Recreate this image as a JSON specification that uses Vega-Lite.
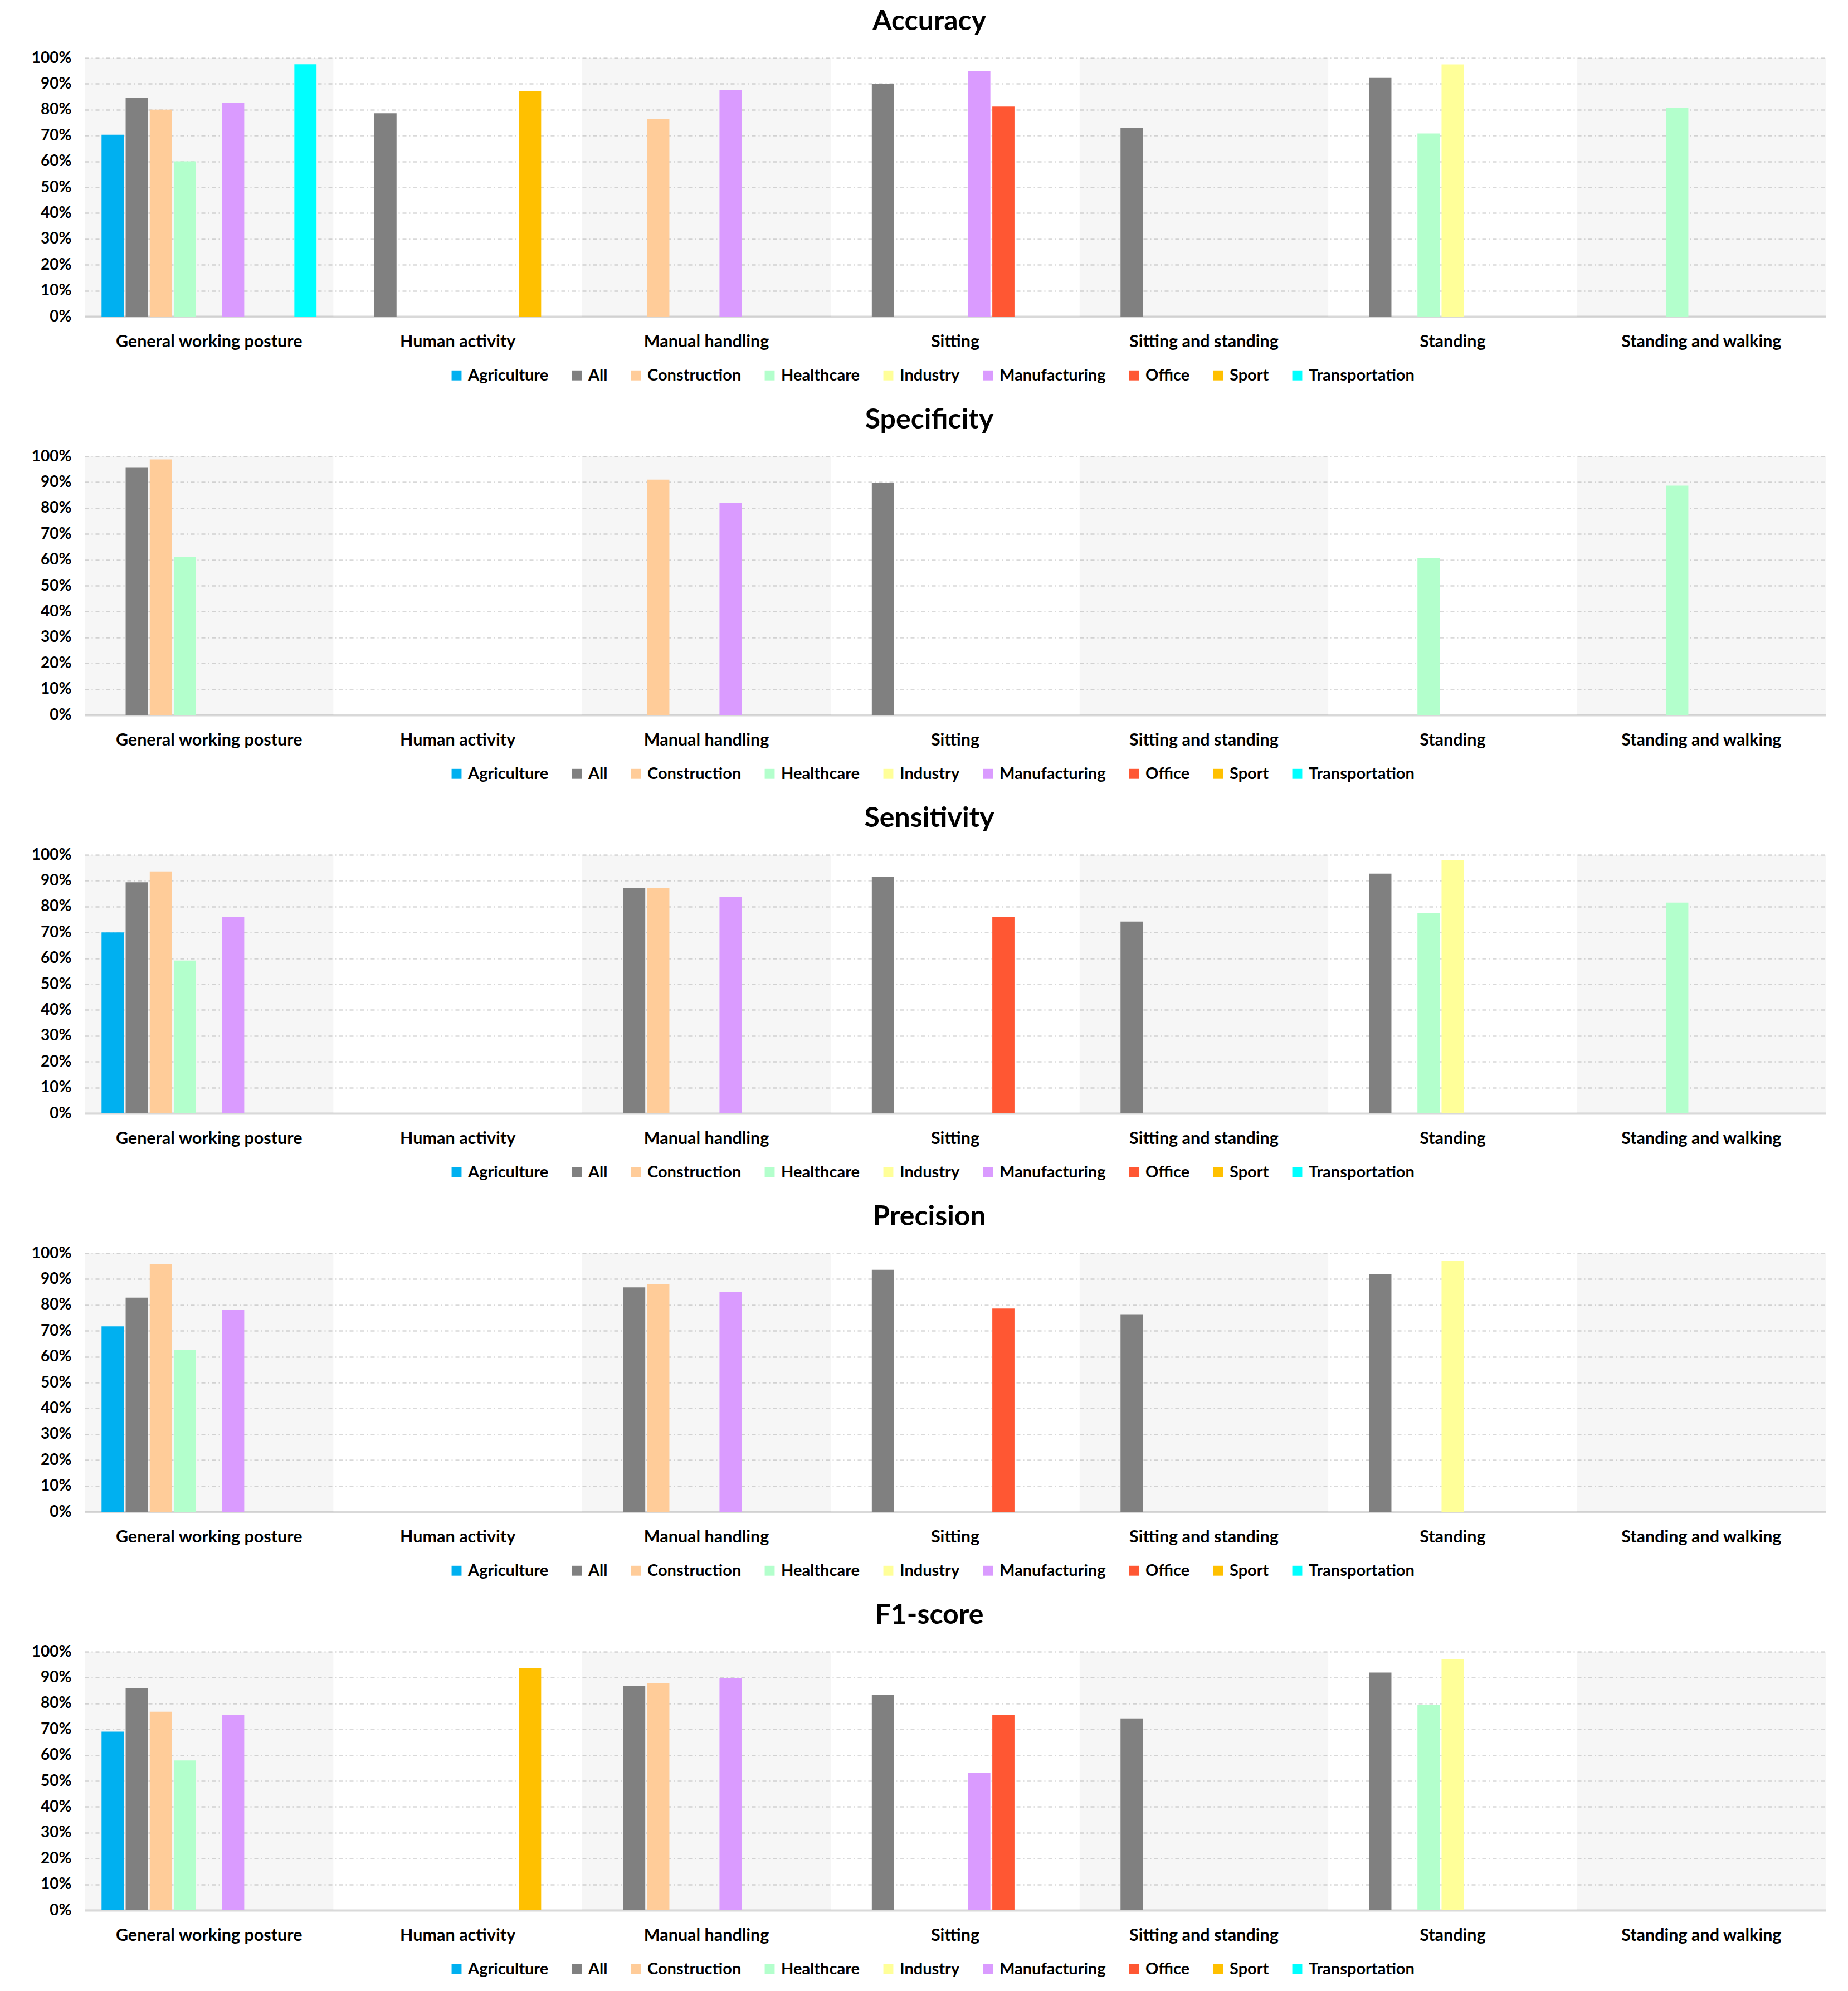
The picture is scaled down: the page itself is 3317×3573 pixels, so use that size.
{
  "$schema": "https://vega.github.io/schema/vega-lite/v6.json",
  "background": "white",
  "padding": {"left": 5, "top": 14, "right": 5, "bottom": 5},
  "datasets": {
    "postures": [
      {"posture": "General working posture"},
      {"posture": "Human activity"},
      {"posture": "Manual handling"},
      {"posture": "Sitting"},
      {"posture": "Sitting and standing"},
      {"posture": "Standing"},
      {"posture": "Standing and walking"}
    ],
    "scores": [
      {"metric": "Accuracy", "posture": "General working posture", "sector": "Agriculture", "value": 0.703},
      {"metric": "Accuracy", "posture": "General working posture", "sector": "All", "value": 0.847},
      {"metric": "Accuracy", "posture": "General working posture", "sector": "Construction", "value": 0.800},
      {"metric": "Accuracy", "posture": "General working posture", "sector": "Healthcare", "value": 0.600},
      {"metric": "Accuracy", "posture": "General working posture", "sector": "Manufacturing", "value": 0.826},
      {"metric": "Accuracy", "posture": "General working posture", "sector": "Transportation", "value": 0.976},
      {"metric": "Accuracy", "posture": "Human activity", "sector": "All", "value": 0.786},
      {"metric": "Accuracy", "posture": "Human activity", "sector": "Sport", "value": 0.873},
      {"metric": "Accuracy", "posture": "Manual handling", "sector": "Construction", "value": 0.764},
      {"metric": "Accuracy", "posture": "Manual handling", "sector": "Manufacturing", "value": 0.877},
      {"metric": "Accuracy", "posture": "Sitting", "sector": "All", "value": 0.901},
      {"metric": "Accuracy", "posture": "Sitting", "sector": "Manufacturing", "value": 0.949},
      {"metric": "Accuracy", "posture": "Sitting", "sector": "Office", "value": 0.812},
      {"metric": "Accuracy", "posture": "Sitting and standing", "sector": "All", "value": 0.729},
      {"metric": "Accuracy", "posture": "Standing", "sector": "All", "value": 0.923},
      {"metric": "Accuracy", "posture": "Standing", "sector": "Healthcare", "value": 0.708},
      {"metric": "Accuracy", "posture": "Standing", "sector": "Industry", "value": 0.975},
      {"metric": "Accuracy", "posture": "Standing and walking", "sector": "Healthcare", "value": 0.808},

      {"metric": "Specificity", "posture": "General working posture", "sector": "All", "value": 0.958},
      {"metric": "Specificity", "posture": "General working posture", "sector": "Construction", "value": 0.988},
      {"metric": "Specificity", "posture": "General working posture", "sector": "Healthcare", "value": 0.612},
      {"metric": "Specificity", "posture": "Manual handling", "sector": "Construction", "value": 0.910},
      {"metric": "Specificity", "posture": "Manual handling", "sector": "Manufacturing", "value": 0.820},
      {"metric": "Specificity", "posture": "Sitting", "sector": "All", "value": 0.897},
      {"metric": "Specificity", "posture": "Standing", "sector": "Healthcare", "value": 0.608},
      {"metric": "Specificity", "posture": "Standing and walking", "sector": "Healthcare", "value": 0.887},

      {"metric": "Sensitivity", "posture": "General working posture", "sector": "Agriculture", "value": 0.700},
      {"metric": "Sensitivity", "posture": "General working posture", "sector": "All", "value": 0.894},
      {"metric": "Sensitivity", "posture": "General working posture", "sector": "Construction", "value": 0.936},
      {"metric": "Sensitivity", "posture": "General working posture", "sector": "Healthcare", "value": 0.591},
      {"metric": "Sensitivity", "posture": "General working posture", "sector": "Manufacturing", "value": 0.760},
      {"metric": "Sensitivity", "posture": "Manual handling", "sector": "All", "value": 0.871},
      {"metric": "Sensitivity", "posture": "Manual handling", "sector": "Construction", "value": 0.871},
      {"metric": "Sensitivity", "posture": "Manual handling", "sector": "Manufacturing", "value": 0.837},
      {"metric": "Sensitivity", "posture": "Sitting", "sector": "All", "value": 0.915},
      {"metric": "Sensitivity", "posture": "Sitting", "sector": "Office", "value": 0.759},
      {"metric": "Sensitivity", "posture": "Sitting and standing", "sector": "All", "value": 0.742},
      {"metric": "Sensitivity", "posture": "Standing", "sector": "All", "value": 0.927},
      {"metric": "Sensitivity", "posture": "Standing", "sector": "Healthcare", "value": 0.776},
      {"metric": "Sensitivity", "posture": "Standing", "sector": "Industry", "value": 0.979},
      {"metric": "Sensitivity", "posture": "Standing and walking", "sector": "Healthcare", "value": 0.815},

      {"metric": "Precision", "posture": "General working posture", "sector": "Agriculture", "value": 0.717},
      {"metric": "Precision", "posture": "General working posture", "sector": "All", "value": 0.828},
      {"metric": "Precision", "posture": "General working posture", "sector": "Construction", "value": 0.958},
      {"metric": "Precision", "posture": "General working posture", "sector": "Healthcare", "value": 0.627},
      {"metric": "Precision", "posture": "General working posture", "sector": "Manufacturing", "value": 0.782},
      {"metric": "Precision", "posture": "Manual handling", "sector": "All", "value": 0.868},
      {"metric": "Precision", "posture": "Manual handling", "sector": "Construction", "value": 0.880},
      {"metric": "Precision", "posture": "Manual handling", "sector": "Manufacturing", "value": 0.850},
      {"metric": "Precision", "posture": "Sitting", "sector": "All", "value": 0.936},
      {"metric": "Precision", "posture": "Sitting", "sector": "Office", "value": 0.786},
      {"metric": "Precision", "posture": "Sitting and standing", "sector": "All", "value": 0.764},
      {"metric": "Precision", "posture": "Standing", "sector": "All", "value": 0.919},
      {"metric": "Precision", "posture": "Standing", "sector": "Industry", "value": 0.970},

      {"metric": "F1-score", "posture": "General working posture", "sector": "Agriculture", "value": 0.691},
      {"metric": "F1-score", "posture": "General working posture", "sector": "All", "value": 0.859},
      {"metric": "F1-score", "posture": "General working posture", "sector": "Construction", "value": 0.768},
      {"metric": "F1-score", "posture": "General working posture", "sector": "Healthcare", "value": 0.579},
      {"metric": "F1-score", "posture": "General working posture", "sector": "Manufacturing", "value": 0.756},
      {"metric": "F1-score", "posture": "Human activity", "sector": "Sport", "value": 0.936},
      {"metric": "F1-score", "posture": "Manual handling", "sector": "All", "value": 0.867},
      {"metric": "F1-score", "posture": "Manual handling", "sector": "Construction", "value": 0.877},
      {"metric": "F1-score", "posture": "Manual handling", "sector": "Manufacturing", "value": 0.898},
      {"metric": "F1-score", "posture": "Sitting", "sector": "All", "value": 0.833},
      {"metric": "F1-score", "posture": "Sitting", "sector": "Manufacturing", "value": 0.531},
      {"metric": "F1-score", "posture": "Sitting", "sector": "Office", "value": 0.756},
      {"metric": "F1-score", "posture": "Sitting and standing", "sector": "All", "value": 0.742},
      {"metric": "F1-score", "posture": "Standing", "sector": "All", "value": 0.919},
      {"metric": "F1-score", "posture": "Standing", "sector": "Healthcare", "value": 0.793},
      {"metric": "F1-score", "posture": "Standing", "sector": "Industry", "value": 0.971}
    ]
  },
  "config": {
    "font": "Lato",
    "view": {"stroke": null},
    "title": {"font": "Lato", "fontSize": 50, "fontWeight": "bold", "color": "#000000", "anchor": "middle", "frame": "bounds", "offset": 26, "dx": 27},
    "axis": {"labelFont": "Lato", "labelFontWeight": "bold", "labelColor": "#000000", "ticks": false, "title": null},
    "axisX": {"labelFontSize": 30.5, "labelAngle": 0, "labelPadding": 30, "labelLimit": 0, "domainColor": "#d9d9d9", "domainWidth": 4, "grid": false},
    "axisY": {"labelFontSize": 28, "labelPadding": 24, "domain": false, "grid": true, "gridColor": "#d9d9d9", "gridWidth": 2.5, "gridDash": [7, 5, 2, 5], "minExtent": 147, "maxExtent": 147},
    "legend": {"labelFont": "Lato", "labelFontWeight": "bold", "labelFontSize": 29, "labelLimit": 0, "labelColor": "#000000", "symbolType": "square", "symbolSize": 320, "symbolStrokeWidth": 0, "labelOffset": 6, "columnPadding": 36}
  },
  "spacing": 40,
  "resolve": {"legend": {"color": "independent"}},
  "vconcat": [
    {
      "title": "Accuracy",
      "width": 3125,
      "height": 464,
      "layer": [
        {
          "data": {"name": "postures"},
          "transform": [{"filter": {"field": "posture", "oneOf": ["General working posture", "Manual handling", "Sitting and standing", "Standing and walking"]}}],
          "mark": {"type": "bar", "color": "#000000", "opacity": 0.035},
          "encoding": {
            "x": {"field": "posture", "type": "nominal", "title": null, "scale": {"domain": ["General working posture", "Human activity", "Manual handling", "Sitting", "Sitting and standing", "Standing", "Standing and walking"], "paddingInner": 0, "paddingOuter": 0}},
            "y": {"datum": 1, "type": "quantitative", "title": null, "scale": {"domain": [0, 1]}, "axis": {"values": [0, 0.1, 0.2, 0.3, 0.4, 0.5, 0.6, 0.7, 0.8, 0.9, 1], "format": ".0%"}},
            "y2": {"datum": 0}
          }
        },
        {
          "data": {"name": "scores"},
          "transform": [{"filter": "datum.metric == 'Accuracy'"}],
          "mark": "bar",
          "encoding": {
            "x": {"field": "posture", "type": "nominal", "title": null, "scale": {"domain": ["General working posture", "Human activity", "Manual handling", "Sitting", "Sitting and standing", "Standing", "Standing and walking"], "paddingInner": 0, "paddingOuter": 0}},
            "xOffset": {"field": "sector", "type": "nominal", "scale": {"domain": ["Agriculture", "All", "Construction", "Healthcare", "Industry", "Manufacturing", "Office", "Sport", "Transportation"], "paddingInner": 0.08, "paddingOuter": 0.7}},
            "y": {"field": "value", "type": "quantitative", "title": null, "scale": {"domain": [0, 1]}, "axis": {"values": [0, 0.1, 0.2, 0.3, 0.4, 0.5, 0.6, 0.7, 0.8, 0.9, 1], "format": ".0%"}},
            "color": {"field": "sector", "type": "nominal", "scale": {"domain": ["Agriculture", "All", "Construction", "Healthcare", "Industry", "Manufacturing", "Office", "Sport", "Transportation"], "range": ["#00b0f0", "#808080", "#ffcc99", "#b3ffcc", "#ffff99", "#da9bff", "#ff5733", "#ffc000", "#00ffff"]}, "legend": {"title": null, "orient": "none", "direction": "horizontal", "columns": 9, "legendX": 653, "legendY": 555}}
          }
        }
      ]
    },
    {
      "title": "Specificity",
      "width": 3125,
      "height": 464,
      "layer": [
        {
          "data": {"name": "postures"},
          "transform": [{"filter": {"field": "posture", "oneOf": ["General working posture", "Manual handling", "Sitting and standing", "Standing and walking"]}}],
          "mark": {"type": "bar", "color": "#000000", "opacity": 0.035},
          "encoding": {
            "x": {"field": "posture", "type": "nominal", "title": null, "scale": {"domain": ["General working posture", "Human activity", "Manual handling", "Sitting", "Sitting and standing", "Standing", "Standing and walking"], "paddingInner": 0, "paddingOuter": 0}},
            "y": {"datum": 1, "type": "quantitative", "title": null, "scale": {"domain": [0, 1]}, "axis": {"values": [0, 0.1, 0.2, 0.3, 0.4, 0.5, 0.6, 0.7, 0.8, 0.9, 1], "format": ".0%"}},
            "y2": {"datum": 0}
          }
        },
        {
          "data": {"name": "scores"},
          "transform": [{"filter": "datum.metric == 'Specificity'"}],
          "mark": "bar",
          "encoding": {
            "x": {"field": "posture", "type": "nominal", "title": null, "scale": {"domain": ["General working posture", "Human activity", "Manual handling", "Sitting", "Sitting and standing", "Standing", "Standing and walking"], "paddingInner": 0, "paddingOuter": 0}},
            "xOffset": {"field": "sector", "type": "nominal", "scale": {"domain": ["Agriculture", "All", "Construction", "Healthcare", "Industry", "Manufacturing", "Office", "Sport", "Transportation"], "paddingInner": 0.08, "paddingOuter": 0.7}},
            "y": {"field": "value", "type": "quantitative", "title": null, "scale": {"domain": [0, 1]}, "axis": {"values": [0, 0.1, 0.2, 0.3, 0.4, 0.5, 0.6, 0.7, 0.8, 0.9, 1], "format": ".0%"}},
            "color": {"field": "sector", "type": "nominal", "scale": {"domain": ["Agriculture", "All", "Construction", "Healthcare", "Industry", "Manufacturing", "Office", "Sport", "Transportation"], "range": ["#00b0f0", "#808080", "#ffcc99", "#b3ffcc", "#ffff99", "#da9bff", "#ff5733", "#ffc000", "#00ffff"]}, "legend": {"title": null, "orient": "none", "direction": "horizontal", "columns": 9, "legendX": 653, "legendY": 555}}
          }
        }
      ]
    },
    {
      "title": "Sensitivity",
      "width": 3125,
      "height": 464,
      "layer": [
        {
          "data": {"name": "postures"},
          "transform": [{"filter": {"field": "posture", "oneOf": ["General working posture", "Manual handling", "Sitting and standing", "Standing and walking"]}}],
          "mark": {"type": "bar", "color": "#000000", "opacity": 0.035},
          "encoding": {
            "x": {"field": "posture", "type": "nominal", "title": null, "scale": {"domain": ["General working posture", "Human activity", "Manual handling", "Sitting", "Sitting and standing", "Standing", "Standing and walking"], "paddingInner": 0, "paddingOuter": 0}},
            "y": {"datum": 1, "type": "quantitative", "title": null, "scale": {"domain": [0, 1]}, "axis": {"values": [0, 0.1, 0.2, 0.3, 0.4, 0.5, 0.6, 0.7, 0.8, 0.9, 1], "format": ".0%"}},
            "y2": {"datum": 0}
          }
        },
        {
          "data": {"name": "scores"},
          "transform": [{"filter": "datum.metric == 'Sensitivity'"}],
          "mark": "bar",
          "encoding": {
            "x": {"field": "posture", "type": "nominal", "title": null, "scale": {"domain": ["General working posture", "Human activity", "Manual handling", "Sitting", "Sitting and standing", "Standing", "Standing and walking"], "paddingInner": 0, "paddingOuter": 0}},
            "xOffset": {"field": "sector", "type": "nominal", "scale": {"domain": ["Agriculture", "All", "Construction", "Healthcare", "Industry", "Manufacturing", "Office", "Sport", "Transportation"], "paddingInner": 0.08, "paddingOuter": 0.7}},
            "y": {"field": "value", "type": "quantitative", "title": null, "scale": {"domain": [0, 1]}, "axis": {"values": [0, 0.1, 0.2, 0.3, 0.4, 0.5, 0.6, 0.7, 0.8, 0.9, 1], "format": ".0%"}},
            "color": {"field": "sector", "type": "nominal", "scale": {"domain": ["Agriculture", "All", "Construction", "Healthcare", "Industry", "Manufacturing", "Office", "Sport", "Transportation"], "range": ["#00b0f0", "#808080", "#ffcc99", "#b3ffcc", "#ffff99", "#da9bff", "#ff5733", "#ffc000", "#00ffff"]}, "legend": {"title": null, "orient": "none", "direction": "horizontal", "columns": 9, "legendX": 653, "legendY": 555}}
          }
        }
      ]
    },
    {
      "title": "Precision",
      "width": 3125,
      "height": 464,
      "layer": [
        {
          "data": {"name": "postures"},
          "transform": [{"filter": {"field": "posture", "oneOf": ["General working posture", "Manual handling", "Sitting and standing", "Standing and walking"]}}],
          "mark": {"type": "bar", "color": "#000000", "opacity": 0.035},
          "encoding": {
            "x": {"field": "posture", "type": "nominal", "title": null, "scale": {"domain": ["General working posture", "Human activity", "Manual handling", "Sitting", "Sitting and standing", "Standing", "Standing and walking"], "paddingInner": 0, "paddingOuter": 0}},
            "y": {"datum": 1, "type": "quantitative", "title": null, "scale": {"domain": [0, 1]}, "axis": {"values": [0, 0.1, 0.2, 0.3, 0.4, 0.5, 0.6, 0.7, 0.8, 0.9, 1], "format": ".0%"}},
            "y2": {"datum": 0}
          }
        },
        {
          "data": {"name": "scores"},
          "transform": [{"filter": "datum.metric == 'Precision'"}],
          "mark": "bar",
          "encoding": {
            "x": {"field": "posture", "type": "nominal", "title": null, "scale": {"domain": ["General working posture", "Human activity", "Manual handling", "Sitting", "Sitting and standing", "Standing", "Standing and walking"], "paddingInner": 0, "paddingOuter": 0}},
            "xOffset": {"field": "sector", "type": "nominal", "scale": {"domain": ["Agriculture", "All", "Construction", "Healthcare", "Industry", "Manufacturing", "Office", "Sport", "Transportation"], "paddingInner": 0.08, "paddingOuter": 0.7}},
            "y": {"field": "value", "type": "quantitative", "title": null, "scale": {"domain": [0, 1]}, "axis": {"values": [0, 0.1, 0.2, 0.3, 0.4, 0.5, 0.6, 0.7, 0.8, 0.9, 1], "format": ".0%"}},
            "color": {"field": "sector", "type": "nominal", "scale": {"domain": ["Agriculture", "All", "Construction", "Healthcare", "Industry", "Manufacturing", "Office", "Sport", "Transportation"], "range": ["#00b0f0", "#808080", "#ffcc99", "#b3ffcc", "#ffff99", "#da9bff", "#ff5733", "#ffc000", "#00ffff"]}, "legend": {"title": null, "orient": "none", "direction": "horizontal", "columns": 9, "legendX": 653, "legendY": 555}}
          }
        }
      ]
    },
    {
      "title": "F1-score",
      "width": 3125,
      "height": 464,
      "layer": [
        {
          "data": {"name": "postures"},
          "transform": [{"filter": {"field": "posture", "oneOf": ["General working posture", "Manual handling", "Sitting and standing", "Standing and walking"]}}],
          "mark": {"type": "bar", "color": "#000000", "opacity": 0.035},
          "encoding": {
            "x": {"field": "posture", "type": "nominal", "title": null, "scale": {"domain": ["General working posture", "Human activity", "Manual handling", "Sitting", "Sitting and standing", "Standing", "Standing and walking"], "paddingInner": 0, "paddingOuter": 0}},
            "y": {"datum": 1, "type": "quantitative", "title": null, "scale": {"domain": [0, 1]}, "axis": {"values": [0, 0.1, 0.2, 0.3, 0.4, 0.5, 0.6, 0.7, 0.8, 0.9, 1], "format": ".0%"}},
            "y2": {"datum": 0}
          }
        },
        {
          "data": {"name": "scores"},
          "transform": [{"filter": "datum.metric == 'F1-score'"}],
          "mark": "bar",
          "encoding": {
            "x": {"field": "posture", "type": "nominal", "title": null, "scale": {"domain": ["General working posture", "Human activity", "Manual handling", "Sitting", "Sitting and standing", "Standing", "Standing and walking"], "paddingInner": 0, "paddingOuter": 0}},
            "xOffset": {"field": "sector", "type": "nominal", "scale": {"domain": ["Agriculture", "All", "Construction", "Healthcare", "Industry", "Manufacturing", "Office", "Sport", "Transportation"], "paddingInner": 0.08, "paddingOuter": 0.7}},
            "y": {"field": "value", "type": "quantitative", "title": null, "scale": {"domain": [0, 1]}, "axis": {"values": [0, 0.1, 0.2, 0.3, 0.4, 0.5, 0.6, 0.7, 0.8, 0.9, 1], "format": ".0%"}},
            "color": {"field": "sector", "type": "nominal", "scale": {"domain": ["Agriculture", "All", "Construction", "Healthcare", "Industry", "Manufacturing", "Office", "Sport", "Transportation"], "range": ["#00b0f0", "#808080", "#ffcc99", "#b3ffcc", "#ffff99", "#da9bff", "#ff5733", "#ffc000", "#00ffff"]}, "legend": {"title": null, "orient": "none", "direction": "horizontal", "columns": 9, "legendX": 653, "legendY": 555}}
          }
        }
      ]
    }
  ]
}
